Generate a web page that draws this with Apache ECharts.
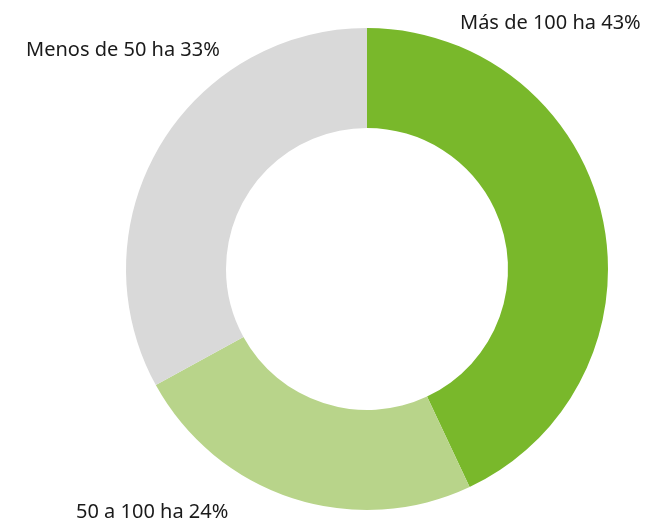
<!DOCTYPE html>
<html>
<head>
<meta charset="utf-8">
<script src="https://cdn.jsdelivr.net/npm/echarts@6/dist/echarts.min.js"></script>
<style>
  html, body { margin: 0; padding: 0; background: #fff; }
  #main { width: 649px; height: 526px; }
</style>
</head>
<body>
<div id="main"></div>
<script>
var categories = ['Más de 100 ha', '50 a 100 ha', 'Menos de 50 ha'];
var shares = [43, 24, 33];
var colors = ['#79b82b', '#b8d48a', '#d9d9d9'];

// where each label sits (left x, middle y)
var labelSpots = [
  { x: 460, y: 23 },
  { x: 76, y: 512 },
  { x: 26, y: 50 }
];

var myChart = echarts.init(document.getElementById('main'));

myChart.setOption({
  backgroundColor: '#fff',
  animation: false,
  series: [{
    type: 'pie',
    center: [367, 269],
    radius: [141, 241],
    startAngle: 90,
    clockwise: true,
    avoidLabelOverlap: false,
    data: categories.map(function (c, i) {
      return { name: c, value: shares[i], itemStyle: { color: colors[i] } };
    }),
    label: {
      show: true,
      position: 'outside',
      formatter: '{b} {c}%',
      color: '#1a1a1a',
      fontFamily: 'Noto Sans',
      fontSize: 20,
      overflow: 'none'
    },
    labelLine: { show: false },
    labelLayout: function (p) {
      var s = labelSpots[p.dataIndex];
      return { x: s.x, y: s.y, align: 'left', verticalAlign: 'middle', hideOverlap: false, moveOverlap: false };
    },
    emphasis: { disabled: true }
  }]
});
</script>
</body>
</html>
